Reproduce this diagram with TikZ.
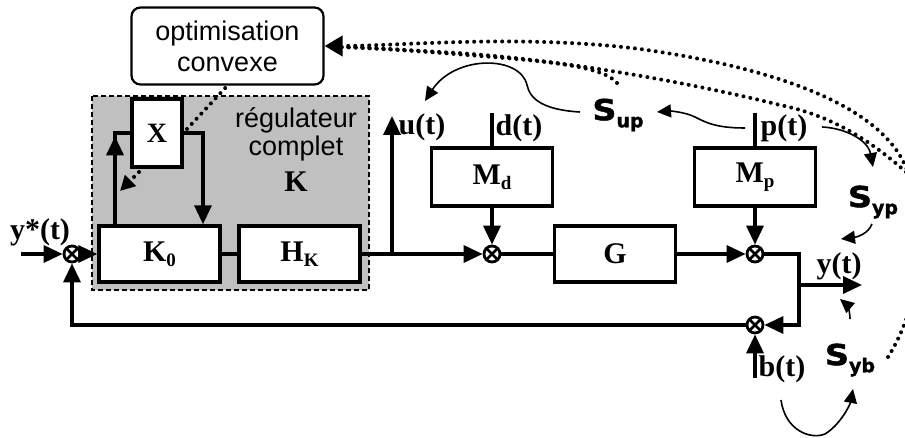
\documentclass[tikz,border=0pt]{standalone}
\usepackage{fontspec}
\setmainfont{Liberation Serif}
\newfontfamily\arialf{Liberation Sans}
\newfontfamily\heavyf{DejaVu Sans}[UprightFont={* Bold},FakeBold=1.5]
\usetikzlibrary{arrows.meta}
\definecolor{regfill}{RGB}{192,192,192}
\newcommand\blksub[1]{\raisebox{-0.35ex}{\fontsize{19}{19}\selectfont #1}}
\newcommand\ssub[1]{\raisebox{-0.45ex}{\fontsize{19}{19}\selectfont #1}}
\newcommand\bigS{\scalebox{1.15}[1]{S}}
\begin{document}
\begin{tikzpicture}[x=1pt,y=-1pt,
  blk/.style={draw, line width=3.4pt, fill=white, minimum width=121pt, minimum height=56pt, inner sep=0pt, font=\fontsize{30}{32}\selectfont\bfseries},
  sumn/.style={draw, circle, line width=2.8pt, minimum size=16pt, inner sep=0pt, fill=white,
    path picture={\draw[line width=2.8pt] (path picture bounding box.north west) -- (path picture bounding box.south east) (path picture bounding box.north east) -- (path picture bounding box.south west);}},
  sig/.style={line width=3.4pt},
  arr/.style={sig, -{Triangle[length=19pt 0 0,width=17pt 0 0]}},
  lab/.style={font=\fontsize{30}{32}\selectfont\bfseries, inner sep=0pt},
  slab/.style={font=\heavyf\fontsize{29}{29}\selectfont, inner sep=0pt},
  carr/.style={line width=1.6pt, -{Triangle[length=14pt 0 0,width=13pt 0 0]}},
  dots/.style={line width=4pt, line cap=round, dash pattern=on 0pt off 7pt}
]
\useasboundingbox (0,0) rectangle (905,438);

% regulator region
\draw[dash pattern=on 5pt off 3pt, line width=1.2pt, fill=regfill] (92,96) rectangle (369,290);
\node[font=\arialf\fontsize{27}{28}\selectfont, align=center, inner sep=0pt] (regtxt) at (296,134) {régulateur\\complet};
\node[font=\fontsize{30}{30}\selectfont\bfseries, inner sep=0pt] (Klab) at (296,182) {K};

% optimisation box
\node[draw, rounded corners=9pt, line width=2.2pt, minimum width=192pt, minimum height=77pt, align=center, font=\arialf\fontsize{27}{31}\selectfont] (opt) at (227.5,46) {optimisation\\convexe};

% blocks
\node[blk, minimum width=50pt, minimum height=68pt, font=\fontsize{28}{30}\selectfont\bfseries] (X) at (157,133) {X};
\node[blk] (K0) at (159.5,254) {K\blksub{0}};
\node[blk] (HK) at (299.5,254) {H\blksub{K}};
\node[blk, minimum height=58pt] (Md) at (492,177) {M\blksub{d}};
\node[blk] (G) at (615,254) {G};
\node[blk, minimum height=58pt] (Mp) at (755,177) {M\blksub{p}};

% summing junctions
\node[sumn] (s1) at (72,254) {};
\node[sumn] (s2) at (492,254) {};
\node[sumn] (s3) at (755,254) {};
\node[sumn] (s4) at (755,325) {};

% signal labels
\node[lab] (ystar) at (40,232) {y*(t)};
\node[lab] (ulab) at (422,127) {u(t)};
\node[lab] (dlab) at (519,128) {d(t)};
\node[lab] (plab) at (784,128) {p(t)};
\node[lab] (ylab) at (839,266) {y(t)};
\node[lab] (blab) at (782,369) {b(t)};

% sensitivity labels
\node[slab] (sup) at (618,115) {\bigS\ssub{up}};
\node[slab] (syp) at (873,202) {\bigS\ssub{yp}};
\node[slab] (syb) at (850,360) {\bigS\ssub{yb}};

% coordinates
\coordinate (yin) at (21,254);
\coordinate (tap) at (392,254);
\coordinate (utop) at (392,116);
\coordinate (din) at (492,113);
\coordinate (pin) at (755,113);
\coordinate (c1) at (799,254);
\coordinate (c2) at (799,325);
\coordinate (yo1) at (797,285);
\coordinate (yo2) at (862,285);
\coordinate (bin) at (755,378);
\coordinate (fb) at (72,325);
\coordinate (a1) at (115,133);
\coordinate (a2) at (203,133);

% main connectors
\draw[arr] (yin) -- (s1);
\draw[arr] (s1) -- (K0);
\draw[sig] (K0) -- (HK);
\draw[arr] (HK) -- (s2);
\draw[arr] (tap) -- (utop);
\draw[arr] (Md) -- (s2);
\draw[sig] (s2) -- (G);
\draw[arr] (G) -- (s3);
\draw[arr] (Mp) -- (s3);
\draw[sig] (din) -- (Md);
\draw[sig] (pin) -- (Mp);
\draw[arr] (s3) -- (c1) -- (c2) -- (s4);
\draw[arr] (yo1) -- (yo2);
\draw[arr] (bin) -- (s4);
\draw[arr] (s4) -- (fb) -- (s1);
\draw[sig] (K0.north -| a1) -- (a1) -- (X.west);
\draw[arr] (K0.north -| a1) -- ++(0,-88);
\draw[arr] (X.east) -- (a2) -- (K0.north -| a2);

% dotted links
\coordinate (xd) at (187,129);
\draw[dots] (xd) -- (opt.south);
\coordinate (xa) at (139,172);
\coordinate (xb) at (120,191);
\draw[dots, -{Triangle[length=15pt 0 0,width=15pt 0 0]}] (xa) -- (xb);

\coordinate (ob) at (888,357);
\coordinate (om) at (906,172);
\coordinate (os) at (617,83);
\coordinate (oe) at (338,47);
\draw[dots, -{Triangle[length=18pt 0 0,width=20pt 0 0]}] (ob) .. controls (915,315) and (935,235) .. (905,165)
   .. controls (880,110) and (790,70) .. (640,49) .. controls (520,34) and (400,46) .. (opt.east);
\draw[dots] (om) .. controls (870,140) and (830,115) .. (780,105) .. controls (700,85) and (560,58) .. (440,52) .. controls (390,49) and (360,47) .. (oe);
\draw[dots] (os) .. controls (605,68) and (560,62) .. (480,56) .. controls (420,51) and (370,48) .. (oe);

% thin curved arrows
\coordinate (t1s) at (580,112);
\coordinate (t1e) at (425,101);
\draw[carr] (t1s) .. controls (545,110) and (530,100) .. (527,85) .. controls (520,55) and (455,55) .. (t1e);
\coordinate (t2s) at (745,128);
\coordinate (t2e) at (657,112);
\draw[carr] (t2s) .. controls (715,128) and (705,122) .. (695,117) .. controls (685,112) and (670,111) .. (t2e);
\coordinate (t3s) at (822,127);
\coordinate (t3e) at (873,167);
\draw[carr] (t3s) .. controls (845,128) and (868,140) .. (t3e);
\coordinate (t4s) at (872,224);
\coordinate (t4e) at (841,239);
\draw[carr] (t4s) .. controls (868,234) and (857,237) .. (t4e);
\coordinate (t5s) at (850,319);
\coordinate (t5e) at (840,299);
\draw[carr] (t5s) .. controls (850,311) and (847,305) .. (t5e);
\coordinate (t6s) at (781,400);
\coordinate (t6e) at (853,389);
\draw[carr] (t6s) .. controls (785,430) and (810,440) .. (825,434) .. controls (840,425) and (850,405) .. (t6e);
\end{tikzpicture}
\end{document}
